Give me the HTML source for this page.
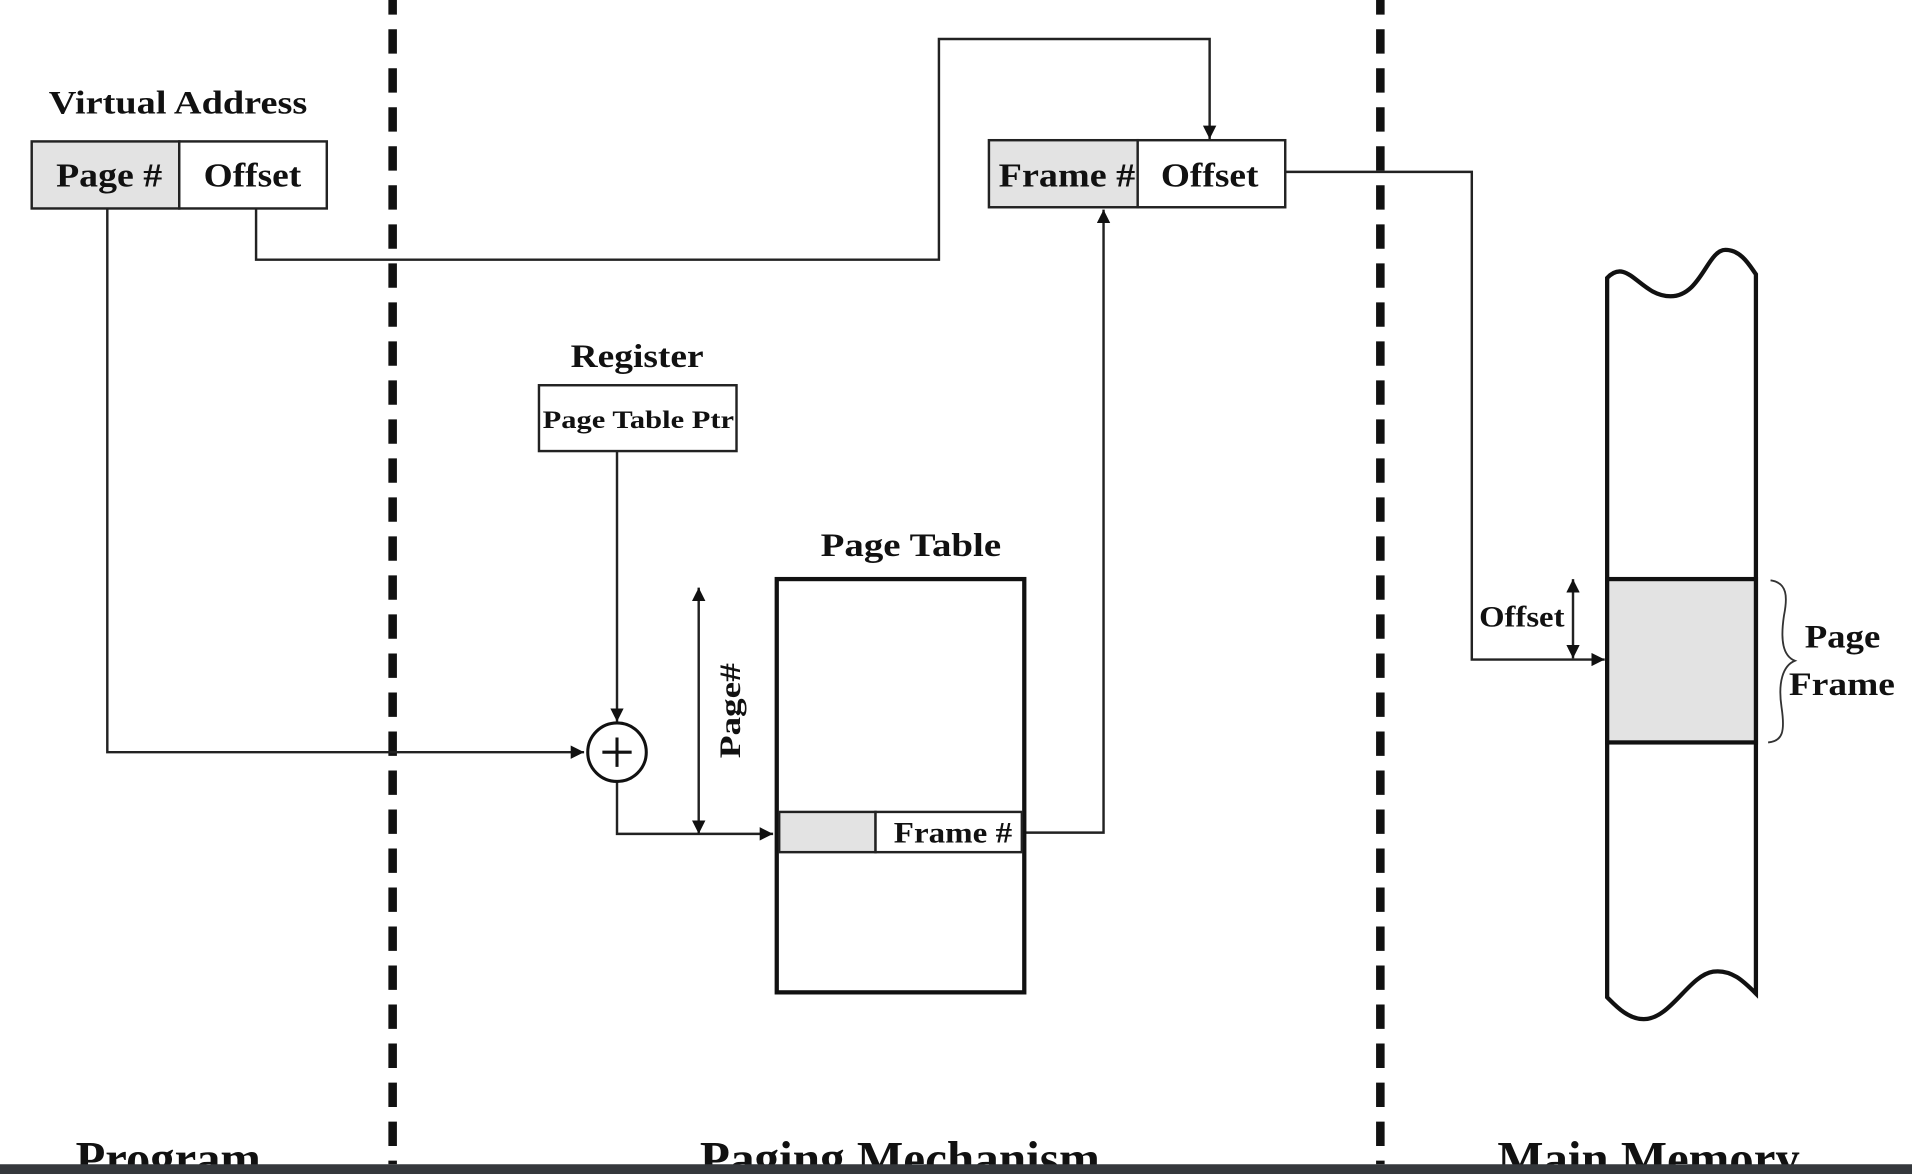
<!DOCTYPE html>
<html><head><meta charset="utf-8"><style>
html,body{margin:0;padding:0;background:#fff;width:1912px;height:1174px;overflow:hidden}
svg{display:block}
text{font-family:"Liberation Serif",serif;font-weight:bold;fill:#111}
</style></head><body>
<svg width="1912" height="1174" viewBox="0 0 1568 963" preserveAspectRatio="none" xmlns="http://www.w3.org/2000/svg">
<defs>
<marker id="a" viewBox="0 0 10 10" refX="10" refY="5" markerWidth="11" markerHeight="11" markerUnits="userSpaceOnUse" orient="auto-start-reverse"><path d="M0,0 L10,5 L0,10 z" fill="#111"/></marker>
</defs>
<rect width="1568" height="963" fill="#fff"/>
<!-- dashed separators -->
<line x1="322" y1="0" x2="322" y2="955" stroke="#111" stroke-width="7" stroke-dasharray="20,12" stroke-dashoffset="8"/>
<line x1="1132" y1="0" x2="1132" y2="955" stroke="#111" stroke-width="7" stroke-dasharray="20,12" stroke-dashoffset="8"/>

<!-- Virtual address -->
<text x="40" y="93" font-size="27" textLength="212" lengthAdjust="spacingAndGlyphs">Virtual Address</text>
<rect x="26" y="116" width="121" height="55" fill="#e3e3e3" stroke="#222" stroke-width="2"/>
<rect x="147" y="116" width="121" height="55" fill="#fff" stroke="#222" stroke-width="2"/>
<text x="46" y="153" font-size="28" textLength="87" lengthAdjust="spacingAndGlyphs">Page #</text>
<text x="167" y="153" font-size="28" textLength="80" lengthAdjust="spacingAndGlyphs">Offset</text>

<!-- connectors -->
<g fill="none" stroke="#222" stroke-width="2">
<path d="M88,171 V617 H479" marker-end="url(#a)"/>
<path d="M210,171 V213 H770 V32 H992 V114" marker-end="url(#a)"/>
<path d="M1054,141 H1207 V541 H1316" marker-end="url(#a)"/>
<path d="M506,370 V592" marker-end="url(#a)"/>
<path d="M506,641 V684 H634" marker-end="url(#a)"/>
<path d="M573,482 V684" marker-start="url(#a)" marker-end="url(#a)"/>
<path d="M840,683 H905 V172" marker-end="url(#a)"/>
<path d="M1290,475 V540" marker-start="url(#a)" marker-end="url(#a)"/>
</g>

<!-- Frame box -->
<rect x="811" y="115" width="122" height="55" fill="#e3e3e3" stroke="#222" stroke-width="2"/>
<rect x="933" y="115" width="121" height="55" fill="#fff" stroke="#222" stroke-width="2"/>
<text x="819" y="153" font-size="28" textLength="112" lengthAdjust="spacingAndGlyphs">Frame #</text>
<text x="952" y="153" font-size="28" textLength="80" lengthAdjust="spacingAndGlyphs">Offset</text>

<!-- Register -->
<text x="468" y="301" font-size="27" textLength="109" lengthAdjust="spacingAndGlyphs">Register</text>
<rect x="442" y="316" width="162" height="54" fill="#fff" stroke="#222" stroke-width="2"/>
<text x="445" y="351" font-size="21" textLength="157" lengthAdjust="spacingAndGlyphs">Page Table Ptr</text>

<!-- adder -->
<circle cx="506" cy="617" r="24" fill="#fff" stroke="#111" stroke-width="2.5"/>
<path d="M494,617 H518 M506,605 V629" stroke="#111" stroke-width="2.5"/>

<!-- Page# label -->
<text transform="translate(607,583) rotate(-90)" text-anchor="middle" font-size="24" textLength="78" lengthAdjust="spacingAndGlyphs">Page#</text>

<!-- Page table -->
<text x="673" y="456" font-size="27" textLength="148" lengthAdjust="spacingAndGlyphs">Page Table</text>
<rect x="637" y="475" width="203" height="339" fill="#fff" stroke="#111" stroke-width="3.5"/>
<rect x="639" y="666" width="79" height="33" fill="#e3e3e3" stroke="#222" stroke-width="2"/>
<rect x="718" y="666" width="120" height="33" fill="#fff" stroke="#222" stroke-width="2"/>
<text x="733" y="691" font-size="24" textLength="97" lengthAdjust="spacingAndGlyphs">Frame #</text>

<!-- Main memory column -->
<path d="M1318,228 C1335,210 1345,243 1370,243 C1395,243 1400,205 1415,205 C1428,205 1435,218 1440,225 V815 C1430,805 1420,795 1405,797 C1385,800 1370,836 1348,836 C1335,836 1325,825 1318,818 Z" fill="#fff" stroke="#111" stroke-width="3.5"/>
<rect x="1318" y="475" width="122" height="134" fill="#e3e3e3" stroke="#111" stroke-width="3.5"/>
<text x="1213" y="514" font-size="24" textLength="70" lengthAdjust="spacingAndGlyphs">Offset</text>
<path d="M1452,476 C1466,478 1466,490 1463,505 C1460,525 1462,538 1472,542 C1462,546 1458,560 1461,580 C1464,600 1462,608 1450,609" fill="none" stroke="#333" stroke-width="1.5"/>
<text x="1480" y="531" font-size="27" textLength="62" lengthAdjust="spacingAndGlyphs">Page</text>
<text x="1467" y="570" font-size="27" textLength="87" lengthAdjust="spacingAndGlyphs">Frame</text>

<!-- bottom labels -->
<text x="62" y="964" font-size="40" textLength="152" lengthAdjust="spacingAndGlyphs">Program</text>
<text x="574" y="964" font-size="40" textLength="328" lengthAdjust="spacingAndGlyphs">Paging Mechanism</text>
<text x="1228" y="964" font-size="40" textLength="248" lengthAdjust="spacingAndGlyphs">Main Memory</text>
<rect x="0" y="955" width="1568" height="8" fill="#35383c"/>
</svg>
</body></html>
